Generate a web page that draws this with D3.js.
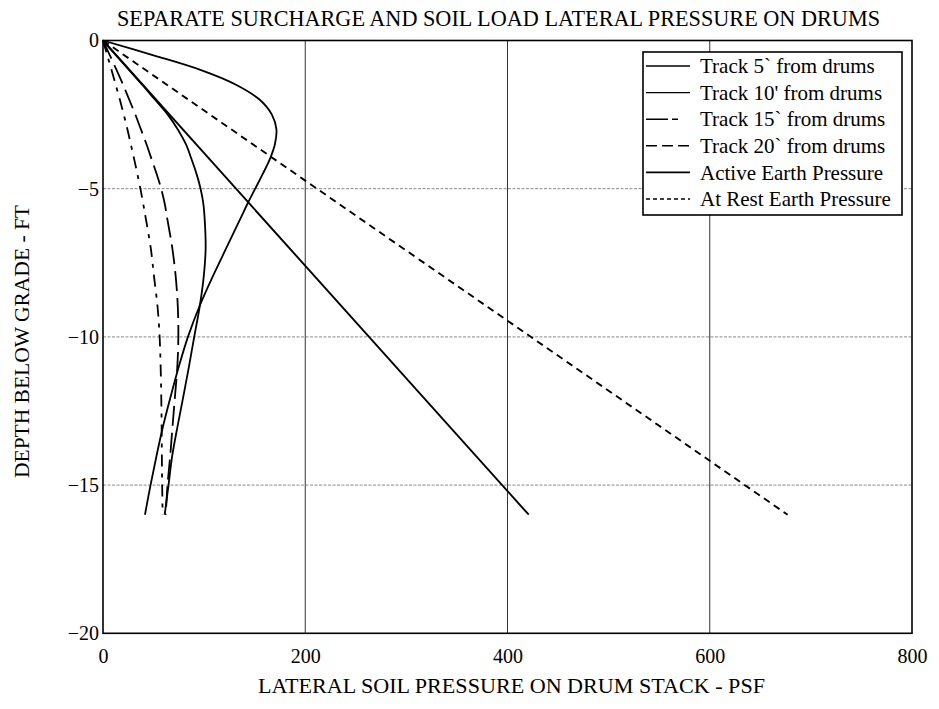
<!DOCTYPE html>
<html><head><meta charset="utf-8">
<script src="https://cdn.jsdelivr.net/npm/d3@7"></script>
<style>body{margin:0;background:#fff}svg{display:block}</style>
</head><body><svg id="c" width="939" height="709"></svg>
<script>
// ---- data (depth in ft, pressure in psf) ----
const depths  = [0,-0.5,-1,-1.5,-2,-2.5,-3,-3.5,-4,-4.5,-5,-5.5,-6,-7,-8,-9,-10,-11,-12,-13,-14,-15,-16];
const track5  = [0,50,97,132,155,167,171.5,170,165,158,150.5,143,136,122,108,95,84,75,67,59.5,53,47,41.5];
const track10 = [0,13,26,39,51.5,64,74,82,87.5,92.5,96.5,99.2,100.5,101.5,99.5,95.5,90.2,85,79.5,73.8,68.5,64.8,61];
const track15 = [0,4.2,8.5,12.6,16.7,20.5,24.2,27.5,30.8,34,37,39.7,42.3,47.2,50.6,54,56,57,57.6,58,58.2,58.5,59];
const track20 = [0,6.8,13.5,20,26,32,37.5,43,48,53,57.5,61,63.5,68.5,72,74,74.5,73.5,71.2,68.8,66.5,63.8,62];
const lineDepths = [0,-16];
const activeEP = [0,421];
const atRestEP = [0,677];
const xTicks = [0,200,400,600,800];
const yTicks = [0,-5,-10,-15,-20];
const seriesNames = ["Track 5` from drums","Track 10' from drums","Track 15` from drums","Track 20` from drums","Active Earth Pressure","At Rest Earth Pressure"];
const titleText = "SEPARATE SURCHARGE AND SOIL LOAD LATERAL PRESSURE ON DRUMS";
const xLabel = "LATERAL SOIL PRESSURE ON DRUM STACK - PSF";
const yLabel = "DEPTH BELOW GRADE - FT";

// ---- layout ----
const svg = d3.select("#c");
const FONT = "'Liberation Serif','Times New Roman',serif";
const L = 103, R = 912, T = 40.5, B = 633.3;
const x = d3.scaleLinear().domain([0,800]).range([L,R]);
const y = d3.scaleLinear().domain([0,-20]).range([T,B]);

svg.append("rect").attr("width",939).attr("height",709).attr("fill","#fff");

// gridlines
svg.append("g").selectAll("line").data(yTicks.filter(v=>v!==0 && v!==-20)).join("line")
  .attr("x1",L).attr("x2",R).attr("y1",d=>y(d)).attr("y2",d=>y(d))
  .attr("stroke","#8a8a8a").attr("stroke-width",1).attr("stroke-dasharray","3,1.5");
svg.append("g").selectAll("line").data(xTicks.filter(v=>v!==0 && v!==800)).join("line")
  .attr("x1",d=>x(d)).attr("x2",d=>x(d)).attr("y1",T).attr("y2",B)
  .attr("stroke","#333").attr("stroke-width",1);

// axes
const xAxis = svg.append("g").attr("transform",`translate(0,${B})`)
  .call(d3.axisBottom(x).tickValues(xTicks).tickSize(0).tickPadding(16).tickFormat(d3.format("d")));
const yAxis = svg.append("g").attr("transform",`translate(${L},0)`)
  .call(d3.axisLeft(y).tickValues(yTicks).tickSize(0).tickPadding(4).tickFormat(d3.format("d")));
[xAxis,yAxis].forEach(a=>{
  a.select(".domain").remove();
  a.selectAll("text").attr("font-family",FONT).attr("font-size",20).attr("fill","#000");
});

// curves
const mk = (vals, ds) => vals.map((v,i)=>({v, d: ds[i]}));
const line = d3.line().x(p=>x(p.v)).y(p=>y(p.d)).curve(d3.curveCatmullRom.alpha(0.5));
const series = [
  {data: mk(track5, depths),  dash: null,          w: 1.8},
  {data: mk(track10, depths), dash: null,          w: 1.8},
  {data: mk(track15, depths), dash: "12,7,4,7",    w: 1.8},
  {data: mk(track20, depths), dash: "20,7",        w: 1.8},
  {data: mk(activeEP, lineDepths), dash: null,     w: 1.9},
  {data: mk(atRestEP, lineDepths), dash: "7,5",    w: 1.9}
];
svg.append("g").selectAll("path").data(series).join("path")
  .attr("d",s=>line(s.data)).attr("fill","none").attr("stroke","#000")
  .attr("stroke-width",s=>s.w).attr("stroke-dasharray",s=>s.dash);

// frame
svg.append("rect").attr("x",L).attr("y",T).attr("width",R-L).attr("height",B-T)
  .attr("fill","none").attr("stroke","#000").attr("stroke-width",1.6);

// legend
const lg = svg.append("g");
lg.append("rect").attr("x",643).attr("y",52).attr("width",259).attr("height",163)
  .attr("fill","#fff").attr("stroke","#000").attr("stroke-width",1.6);
const legDash = [null,null,"22,4,6,14","11,5",null,"4,3"];
const rowY = i => 66 + i*26.6;
lg.selectAll("line.s").data(seriesNames).join("line").attr("class","s")
  .attr("x1",646).attr("x2",690).attr("y1",(d,i)=>rowY(i)).attr("y2",(d,i)=>rowY(i))
  .attr("stroke","#000").attr("stroke-width",(d,i)=>i===4?1.9:1.4).attr("stroke-dasharray",(d,i)=>legDash[i]);
lg.selectAll("text").data(seriesNames).join("text")
  .attr("x",700).attr("y",(d,i)=>rowY(i)).attr("dy","0.34em")
  .attr("font-family",FONT).attr("font-size",21).attr("fill","#000").text(d=>d);

// titles
svg.append("text").attr("x",117).attr("y",26)
  .attr("textLength",763).attr("lengthAdjust","spacingAndGlyphs")
  .attr("font-family",FONT).attr("font-size",23).attr("fill","#000").text(titleText);
svg.append("text").attr("x",258).attr("y",693)
  .attr("textLength",507).attr("lengthAdjust","spacingAndGlyphs")
  .attr("font-family",FONT).attr("font-size",21).attr("fill","#000").text(xLabel);
svg.append("text").attr("transform","translate(29,478) rotate(-90)")
  .attr("textLength",273).attr("lengthAdjust","spacingAndGlyphs")
  .attr("font-family",FONT).attr("font-size",21).attr("fill","#000").text(yLabel);
</script></body></html>
